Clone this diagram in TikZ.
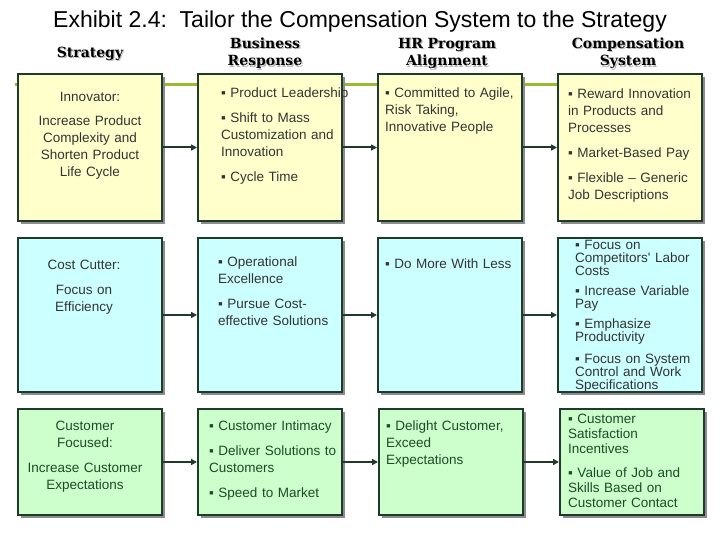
\documentclass[tikz,border=0pt]{standalone}
\usepackage{fontspec}
\setmainfont{Liberation Sans}
\newfontfamily\headfont{DejaVu Serif}
\usetikzlibrary{arrows.meta,shadows}

\definecolor{boxline}{HTML}{1F3A2A}
\definecolor{boxshade}{HTML}{8C8C8C}
\definecolor{yelfill}{HTML}{FFFFCC}
\definecolor{cyanfill}{HTML}{CCFFFF}
\definecolor{grnfill}{HTML}{CCFFCC}
\definecolor{limeline}{HTML}{99BB33}
\definecolor{txtdark}{HTML}{333333}
\definecolor{txtgreen}{HTML}{1E4A28}

\newcommand{\bul}{▪ }
\newcommand{\shtext}[1]{\makebox[0pt][l]{\hspace{1.2pt}\raisebox{-1.2pt}{\color{gray!55}#1}}#1}

\begin{document}
\begin{tikzpicture}[x=1pt,y=-1pt,
    box/.style={draw=boxline, line width=2pt, minimum width=144pt, inner sep=0pt,
      drop shadow={shadow xshift=3pt, shadow yshift=-3pt, fill=boxshade, opacity=1}},
    conn/.style={draw=boxline, line width=2pt, -{Triangle[length=6pt,width=6pt]}},
    note/.style={anchor=base west, align=left, inner sep=0pt, text width=160pt,
      text=txtdark, font=\fontsize{13.5}{17}\selectfont},
    ctr/.style={anchor=base, align=center, inner sep=0pt, text width=144pt,
      text=txtdark, font=\fontsize{13.5}{17}\selectfont},
    head/.style={anchor=base, align=center, inner sep=0pt, text width=160pt,
      font=\headfont\bfseries\fontsize{14}{17.5}\selectfont}]
  \useasboundingbox (0,0) rectangle (720,540);

  % title and column heads
  \node[inner sep=0pt, font=\fontsize{23}{27}\selectfont] (title) at (360,22)
    {Exhibit 2.4:\ \ Tailor the Compensation System to the Strategy};
  \node[head] (hd-str) at (90,57.5) {\shtext{Strategy}};
  \node[head] (hd-bus) at (265,48.5) {\shtext{Business}\\\shtext{Response}};
  \node[head] (hd-hr) at (447,48.5) {\shtext{HR Program}\\\shtext{Alignment}};
  \node[head] (hd-comp) at (628,48.5) {\shtext{Compensation}\\\shtext{System}};

  % lime rule behind the first row
  \coordinate (lime-a) at (15,85);
  \coordinate (lime-b) at (600,85);
  \draw[limeline, line width=3pt] (lime-a) -- (lime-b);

  % innovator row
  \node[box, fill=yelfill, minimum height=147pt] (str1) at (90,147.5) {};
  \node[box, fill=yelfill, minimum height=147pt] (bus1) at (270,147.5) {};
  \node[box, fill=yelfill, minimum height=147pt] (hr1) at (450,147.5) {};
  \node[box, fill=yelfill, minimum height=147pt] (comp1) at (630,147.5) {};
  \draw[conn] (str1) -- (bus1);
  \draw[conn] (bus1) -- (hr1);
  \draw[conn] (hr1) -- (comp1);
  \node[ctr] (str1-txt) at (90,101.5)
    {Innovator:\\[7pt]Increase Product\\Complexity and\\Shorten Product\\Life Cycle};
  \node[note] (bus1-txt) at (221,97.5)
    {\bul Product Leadership\\[8pt]\bul Shift to Mass\\Customization and\\Innovation\\[8pt]\bul Cycle Time};
  \node[note] (hr1-txt) at (385,97.5)
    {\bul Committed to Agile,\\Risk Taking,\\Innovative People};
  \node[note] (comp1-txt) at (568,98.5)
    {\bul Reward Innovation\\in Products and\\Processes\\[8pt]\bul Market-Based Pay\\[8pt]\bul Flexible -- Generic\\Job Descriptions};

  % cost cutter row
  \node[box, fill=cyanfill, minimum height=154pt] (str2) at (90,315) {};
  \node[box, fill=cyanfill, minimum height=154pt] (bus2) at (270,315) {};
  \node[box, fill=cyanfill, minimum height=154pt] (hr2) at (450,315) {};
  \node[box, fill=cyanfill, minimum height=154pt] (comp2) at (630,315) {};
  \draw[conn] (str2) -- (bus2);
  \draw[conn] (bus2) -- (hr2);
  \draw[conn] (hr2) -- (comp2);
  \node[ctr] (str2-txt) at (84,269.5) {Cost Cutter:\\[8pt]Focus on\\Efficiency};
  \node[note] (bus2-txt) at (218,266.5)
    {\bul Operational\\Excellence\\[8pt]\bul Pursue Cost-\\effective Solutions};
  \node[note] (hr2-txt) at (385,268.5) {\bul Do More With Less};
  \node[note, font=\fontsize{13.5}{13}\selectfont] (comp2-txt) at (575,249.5)
    {\bul Focus on\\Competitors\textquotesingle\ Labor\\Costs\\[7pt]\bul Increase Variable\\Pay\\[7pt]\bul Emphasize\\Productivity\\[9pt]\bul Focus on System\\Control and Work\\Specifications};

  % customer focused row
  \node[box, fill=grnfill, minimum height=106pt] (str3) at (90,462) {};
  \node[box, fill=grnfill, minimum height=106pt] (bus3) at (270,462) {};
  \node[box, fill=grnfill, minimum height=106pt] (hr3) at (451,462) {};
  \node[box, fill=grnfill, minimum height=106pt] (comp3) at (632,462) {};
  \draw[conn] (str3) -- (bus3);
  \draw[conn] (bus3) -- (hr3);
  \draw[conn] (hr3) -- (comp3);
  \node[ctr, text=txtgreen] (str3-txt) at (85,430.5)
    {Customer\\Focused:\\[8pt]Increase Customer\\Expectations};
  \node[note, text=txtgreen] (bus3-txt) at (209,430.5)
    {\bul Customer Intimacy\\[8pt]\bul Deliver Solutions to\\Customers\\[8pt]\bul Speed to Market};
  \node[note, text=txtgreen] (hr3-txt) at (386,430.5)
    {\bul Delight Customer,\\Exceed\\Expectations};
  \node[note, text=txtgreen, font=\fontsize{13.5}{15}\selectfont] (comp3-txt) at (568,423.5)
    {\bul Customer\\Satisfaction\\Incentives\\[9pt]\bul Value of Job and\\Skills Based on\\Customer Contact};
\end{tikzpicture}
\end{document}
